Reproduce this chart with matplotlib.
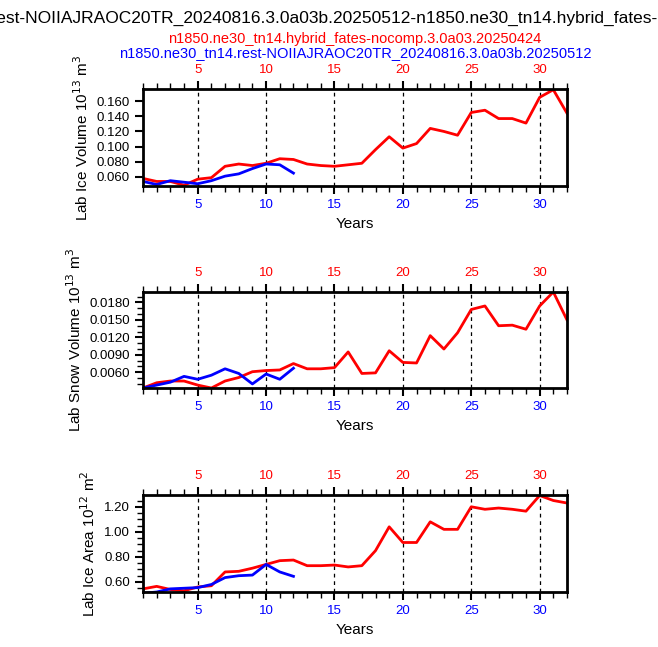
import matplotlib
matplotlib.use("Agg")
import matplotlib.pyplot as plt
from matplotlib.ticker import MultipleLocator

plt.rcParams["font.family"] = ["Liberation Sans", "DejaVu Sans"]

# data
years_red = list(range(1, 33))
years_blue = list(range(1, 13))

ice_vol_red = [0.058, 0.054, 0.054, 0.049, 0.057, 0.059, 0.074, 0.077, 0.075, 0.078, 0.084, 0.083,
               0.077, 0.075, 0.074, 0.076, 0.078, 0.096, 0.113, 0.098, 0.104, 0.124, 0.120, 0.115,
               0.145, 0.148, 0.137, 0.137, 0.131, 0.165, 0.175, 0.144]
ice_vol_blue = [0.054, 0.050, 0.055, 0.053, 0.051, 0.055, 0.061, 0.064, 0.071, 0.077, 0.076, 0.065]

snow_vol_red = [0.0033, 0.0042, 0.0045, 0.0045, 0.0038, 0.0033, 0.0045, 0.0051, 0.0061, 0.0063, 0.0064,
                0.0075, 0.0066, 0.0066, 0.0068, 0.0095, 0.0058, 0.0059, 0.0097, 0.0077, 0.0076, 0.0123,
                0.0100, 0.0128, 0.0168, 0.0174, 0.0140, 0.0141, 0.0134, 0.0174, 0.0198, 0.0150]
snow_vol_blue = [0.0033, 0.0038, 0.0043, 0.0053, 0.0048, 0.0055, 0.0066, 0.0058, 0.0040, 0.0057,
                 0.0048, 0.0067]

ice_area_red = [0.545, 0.565, 0.54, 0.53, 0.56, 0.57, 0.68, 0.685, 0.71, 0.74, 0.77, 0.775, 0.73,
                0.73, 0.735, 0.72, 0.73, 0.85, 1.04, 0.915, 0.915, 1.08, 1.02, 1.02, 1.20, 1.18,
                1.19, 1.18, 1.165, 1.29, 1.25, 1.23]
ice_area_blue = [0.51, 0.52, 0.545, 0.55, 0.555, 0.58, 0.635, 0.65, 0.655, 0.74, 0.68, 0.645]

panels = [
    (ice_vol_red, ice_vol_blue, "Lab Ice Volume 10$^{13}$ m$^3$", (0.048, 0.176), 0.02, "%.3f",
     [0.06, 0.08, 0.10, 0.12, 0.14, 0.16]),
    (snow_vol_red, snow_vol_blue, "Lab Snow Volume 10$^{13}$ m$^3$", (0.0033, 0.0198), 0.001, "%.4f",
     [0.006, 0.009, 0.012, 0.015, 0.018]),
    (ice_area_red, ice_area_blue, "Lab Ice Area 10$^{12}$ m$^2$", (0.52, 1.294), 0.05, "%.2f",
     [0.6, 0.8, 1.0, 1.2]),
]
# axes boxes in pixels: top, bottom
boxes = [(89, 186), (292, 388), (495, 592)]

W, H = 658, 647
fig = plt.figure(figsize=(W / 100, H / 100), dpi=100)

for (red, blue, label, ylim, minor, fmt, yt), (top, bot) in zip(panels, boxes):
    ax = fig.add_axes([143 / W, 1 - bot / H, (567 - 143) / W, (bot - top) / H])
    for x in range(5, 31, 5):
        ax.axvline(x, color="black", ls=(0, (3, 3)), lw=0.9)
    ax.plot(years_red, red, color="red", lw=2)
    ax.plot(years_blue, blue, color="blue", lw=2)
    ax.set_xlim(1, 32)
    ax.set_ylim(*ylim)
    ax.set_xticks(range(5, 31, 5))
    ax.xaxis.set_minor_locator(MultipleLocator(1))
    ax.set_yticks(yt)
    ax.set_yticklabels([fmt % v for v in yt])
    ax.yaxis.set_minor_locator(MultipleLocator(minor))
    ax.tick_params(which="both", direction="out", top=True, labeltop=True, right=False,
                   labelsize=9.5, width=1.5)
    ax.tick_params(which="major", length=6)
    ax.tick_params(which="minor", length=4, width=1)
    # top labels red, bottom labels blue
    for tk in ax.xaxis.get_major_ticks():
        tk.label2.set_color("red")
        tk.label1.set_color("blue")
    for s in ax.spines.values():
        s.set_linewidth(2)
    ax.set_xlabel("Years", fontsize=11)
    ax.set_ylabel(label, fontsize=11)

fig.text(355 / W, 1 - 18 / H,
         "n1850.ne30_tn14.rest-NOIIAJRAOC20TR_20240816.3.0a03b.20250512-n1850.ne30_tn14.hybrid_fates-nocomp.3.0a03.20250424",
         ha="center", va="center", fontsize=12.5, color="black")
fig.text(355 / W, 1 - 39 / H, "n1850.ne30_tn14.hybrid_fates-nocomp.3.0a03.20250424",
         ha="center", va="center", fontsize=10.5, color="red")
fig.text(355 / W, 1 - 53 / H, "n1850.ne30_tn14.rest-NOIIAJRAOC20TR_20240816.3.0a03b.20250512",
         ha="center", va="center", fontsize=10.5, color="blue")

fig.savefig("out.png", dpi=100)
